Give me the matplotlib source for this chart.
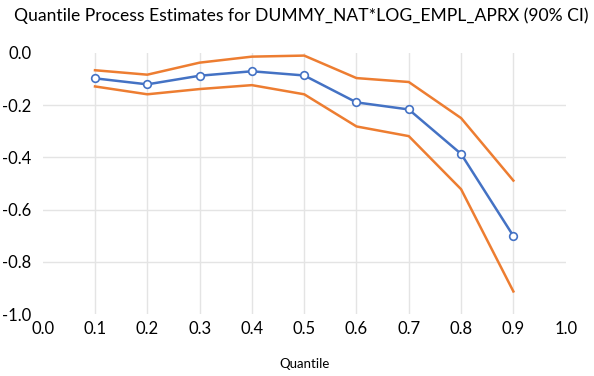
import matplotlib
matplotlib.use("Agg")
import matplotlib.pyplot as plt

# === データ ===
quantiles = [0.1, 0.2, 0.3, 0.4, 0.5, 0.6, 0.7, 0.8, 0.9]
estimate = [-0.098, -0.121, -0.088, -0.071, -0.087, -0.190, -0.217, -0.387, -0.701]
upper_ci = [-0.067, -0.084, -0.038, -0.015, -0.011, -0.097, -0.112, -0.250, -0.489]
lower_ci = [-0.129, -0.159, -0.139, -0.124, -0.159, -0.282, -0.319, -0.522, -0.913]

x_ticks = [0.0, 0.1, 0.2, 0.3, 0.4, 0.5, 0.6, 0.7, 0.8, 0.9, 1.0]
y_ticks = [0.0, -0.2, -0.4, -0.6, -0.8, -1.0]

BLUE = "#4472C4"
ORANGE = "#ED7D31"
GRID = "#E4E4E4"

plt.rcParams["font.family"] = ["Lato", "DejaVu Sans"]
plt.rcParams["axes.unicode_minus"] = False

fig = plt.figure(figsize=(5.94, 3.76), dpi=100)
ax = fig.add_axes([0.0719, 0.1644, 0.8804, 0.6954])

# グリッド（内側のみ）
for x in x_ticks[1:-1]:
    ax.axvline(x, color=GRID, lw=1.0, zorder=0)
for y in y_ticks[1:-1]:
    ax.axhline(y, color=GRID, lw=1.0, zorder=0)

ax.plot(quantiles, upper_ci, color=ORANGE, lw=1.8, zorder=2)
ax.plot(quantiles, lower_ci, color=ORANGE, lw=1.8, zorder=2)
ax.plot(quantiles, estimate, color=BLUE, lw=1.8, marker="o", markersize=5.5,
        markerfacecolor="white", markeredgecolor=BLUE, markeredgewidth=1.2, zorder=3)

ax.set_xlim(0.0, 1.0)
ax.set_ylim(-1.0, 0.0)
ax.set_xticks(x_ticks)
ax.set_xticklabels([f"{v:.1f}" for v in x_ticks])
ax.set_yticks(y_ticks)
ax.set_yticklabels([f"{v:.1f}" for v in y_ticks])
ax.tick_params(length=0, labelsize=12, colors="#000000")
ax.tick_params(axis="x", pad=5)
ax.tick_params(axis="y", pad=8)
for s in ax.spines.values():
    s.set_visible(False)

ax.set_xlabel("Quantile", fontsize=9.5, labelpad=15)
fig.text(0.024, 0.957, "Quantile Process Estimates for DUMMY_NAT*LOG_EMPL_APRX (90% CI)",
         fontsize=12.65, ha="left", va="center")

fig.savefig("out.png", dpi=100)
